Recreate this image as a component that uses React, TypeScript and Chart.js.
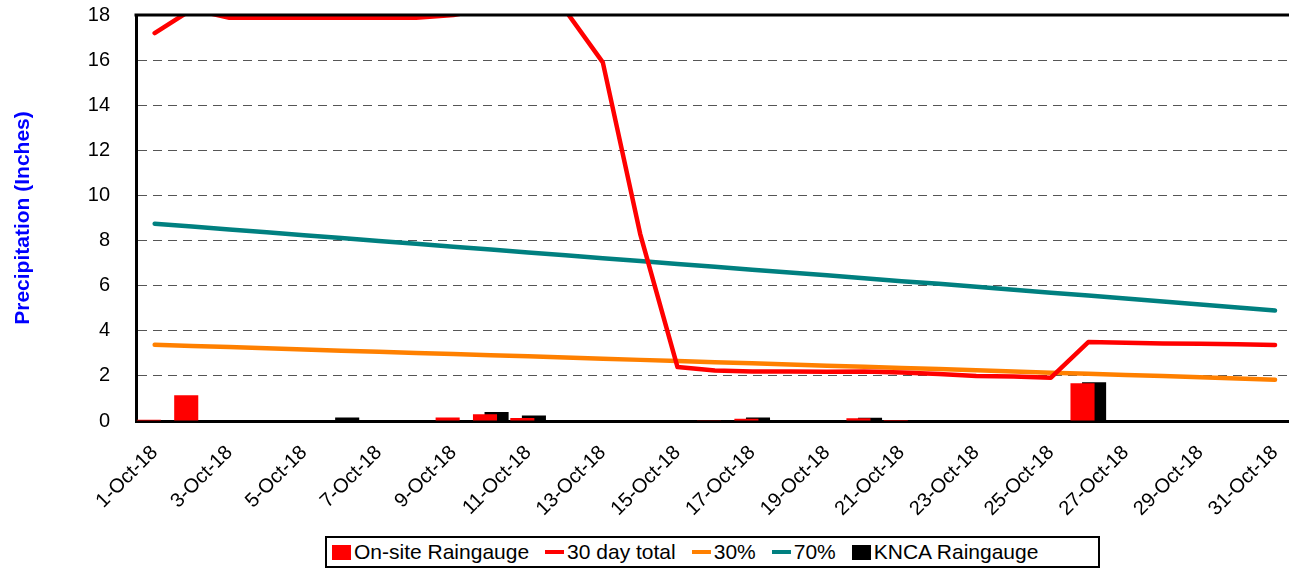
import React, { useEffect, useRef } from 'react';
import { Chart, registerables } from 'chart.js';

Chart.register(...registerables);

const days = [
  '1-Oct-18', '2-Oct-18', '3-Oct-18', '4-Oct-18', '5-Oct-18', '6-Oct-18', '7-Oct-18', '8-Oct-18',
  '9-Oct-18', '10-Oct-18', '11-Oct-18', '12-Oct-18', '13-Oct-18', '14-Oct-18', '15-Oct-18', '16-Oct-18',
  '17-Oct-18', '18-Oct-18', '19-Oct-18', '20-Oct-18', '21-Oct-18', '22-Oct-18', '23-Oct-18', '24-Oct-18',
  '25-Oct-18', '26-Oct-18', '27-Oct-18', '28-Oct-18', '29-Oct-18', '30-Oct-18', '31-Oct-18',
];

const onSite = [
  0.05, 1.14, 0, 0, 0, 0, 0, 0, 0.15, 0.3, 0.13, 0, 0, 0, 0, 0.03,
  0.1, 0, 0, 0.12, 0.04, 0, 0, 0, 0, 1.67, 0, 0, 0, 0, 0,
];

const knca = [
  0.02, 0, 0, 0, 0, 0.15, 0, 0, 0.03, 0.4, 0.24, 0, 0, 0, 0, 0.03,
  0.15, 0, 0, 0.14, 0, 0, 0, 0, 0, 1.72, 0, 0, 0, 0, 0,
];

const total30 = [
  17.2, 18.25, 17.88, 17.88, 17.88, 17.88, 17.88, 17.88, 18.0, 18.3, 18.45, 18.2, 15.9, 8.3, 2.39, 2.24,
  2.2, 2.2, 2.18, 2.2, 2.15, 2.08, 2.0, 1.97, 1.92, 3.5, 3.47, 3.44, 3.42, 3.4, 3.37,
];

const pct30 = [
  3.38, 3.33, 3.28, 3.23, 3.17, 3.12, 3.07, 3.02, 2.97, 2.92, 2.87, 2.81, 2.76, 2.71, 2.66, 2.61,
  2.56, 2.51, 2.45, 2.4, 2.35, 2.3, 2.25, 2.2, 2.14, 2.09, 2.04, 1.99, 1.94, 1.88, 1.83,
];

const pct70 = [
  8.75, 8.62, 8.49, 8.37, 8.24, 8.11, 7.98, 7.86, 7.73, 7.6, 7.47, 7.35, 7.22, 7.09, 6.96, 6.84,
  6.71, 6.58, 6.46, 6.33, 6.2, 6.08, 5.95, 5.82, 5.69, 5.56, 5.43, 5.3, 5.17, 5.03, 4.9,
];

const FONT = '"Liberation Sans", Arial, sans-serif';

const legendItems = [
  { label: 'On-site Raingauge', color: '#FF0000', kind: 'box' },
  { label: '30 day total', color: '#FF0000', kind: 'line' },
  { label: '30%', color: '#FF8000', kind: 'line' },
  { label: '70%', color: '#008080', kind: 'line' },
  { label: 'KNCA Raingauge', color: '#000000', kind: 'box' },
];

const frameBorder = {
  id: 'frameBorder',
  afterDatasetsDraw(chart: any) {
    const { ctx, chartArea } = chart;
    ctx.save();
    ctx.strokeStyle = '#000';
    ctx.lineWidth = 3;
    ctx.beginPath();
    ctx.moveTo(chartArea.left - 1.5, chartArea.top);
    ctx.lineTo(chartArea.right, chartArea.top);
    ctx.lineTo(chartArea.right, chartArea.bottom);
    ctx.stroke();
    ctx.restore();
  },
};

function Legend() {
  return (
    <div
      style={{
        position: 'absolute',
        left: 325,
        top: 536,
        width: 775,
        height: 32,
        border: '2px solid #000',
        boxSizing: 'border-box',
        display: 'flex',
        alignItems: 'center',
        paddingLeft: 5,
        fontFamily: FONT,
        fontSize: 21,
        color: '#000',
        whiteSpace: 'nowrap',
        background: '#fff',
      }}
    >
      {legendItems.map((it) => (
        <div key={it.label} style={{ display: 'flex', alignItems: 'center', marginRight: 16 }}>
          <span
            style={{
              display: 'inline-block',
              width: 19,
              height: it.kind === 'box' ? 15 : 4,
              background: it.color,
              marginRight: 3,
            }}
          />
          <span>{it.label}</span>
        </div>
      ))}
    </div>
  );
}

export default function App() {
  const ref = useRef<HTMLCanvasElement>(null);

  useEffect(() => {
    Chart.defaults.font.family = FONT;
    const lineBase = {
      type: 'line' as const,
      borderWidth: 4.5,
      pointRadius: 0,
      pointHoverRadius: 0,
      tension: 0,
      borderJoinStyle: 'round' as const,
      borderCapStyle: 'round' as const,
      fill: false,
    };
    const chart = new Chart(ref.current!, {
      type: 'bar',
      data: {
        labels: days,
        datasets: [
          { ...lineBase, label: '30 day total', data: total30, borderColor: '#FF0000', backgroundColor: '#FF0000', order: 0 },
          { ...lineBase, label: '30%', data: pct30, borderColor: '#FF8000', backgroundColor: '#FF8000', order: 1 },
          { ...lineBase, label: '70%', data: pct70, borderColor: '#008080', backgroundColor: '#008080', order: 1 },
          {
            type: 'bar',
            label: 'On-site Raingauge',
            data: onSite,
            backgroundColor: '#FF0000',
            order: 3,
            categoryPercentage: 0.62,
            barPercentage: 2.08,
          },
          {
            type: 'bar',
            label: 'KNCA Raingauge',
            data: knca,
            backgroundColor: '#000000',
            order: 4,
            categoryPercentage: 0.62,
            barPercentage: 2.08,
          },
        ] as any,
      },
      options: {
        animation: false,
        responsive: true,
        maintainAspectRatio: false,
        devicePixelRatio: 1,
        layout: { padding: { top: 15, left: 0, right: 0, bottom: 0 } },
        plugins: {
          legend: { display: false },
          tooltip: { enabled: false },
          title: { display: false },
        },
        scales: {
          x: {
            grid: { display: false, drawTicks: false },
            border: { display: true, color: '#000', width: 3 },
            ticks: {
              autoSkip: false,
              maxRotation: 45,
              minRotation: 45,
              color: '#000',
              padding: 20,
              font: { size: 20, family: FONT },
              callback: (_v: any, i: number) => (i % 2 === 0 ? days[i] : ''),
            },
            afterFit: (s: any) => {
              s.height = 109;
            },
          },
          y: {
            min: 0,
            max: 18,
            ticks: { stepSize: 2, color: '#000', padding: 26, font: { size: 20, family: FONT } },
            grid: {
              drawTicks: false,
              lineWidth: 1,
              color: (c: any) =>
                c.tick && (c.tick.value === 0 || c.tick.value === 18) ? 'rgba(0,0,0,0)' : '#555',
            },
            border: { display: true, color: '#000', width: 3, dash: [9, 6] },
            title: {
              display: true,
              text: 'Precipitation (Inches)',
              color: '#0000FF',
              font: { size: 21, weight: 'bold', family: FONT },
              padding: { top: 11, bottom: 0 },
            },
            afterFit: (s: any) => {
              s.width = 136;
            },
          },
        },
      },
      plugins: [frameBorder],
    });
    return () => chart.destroy();
  }, []);

  return (
    <div
      style={{
        position: 'fixed',
        left: 0,
        top: 0,
        width: 1289,
        height: 569,
        overflow: 'hidden',
        background: '#fff',
      }}
    >
      <div style={{ position: 'absolute', left: 0, top: -23, width: 1312, height: 553 }}>
        <canvas ref={ref} />
      </div>
      <Legend />
    </div>
  );
}
